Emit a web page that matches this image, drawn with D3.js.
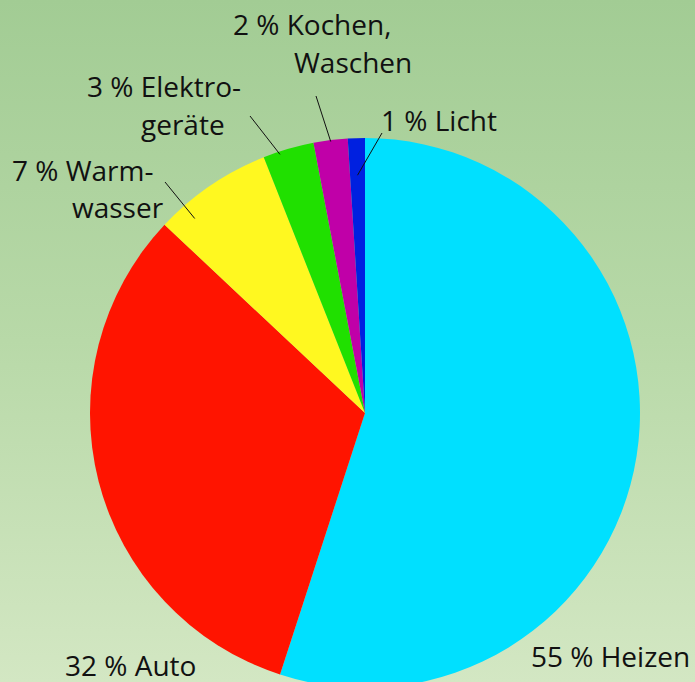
<!DOCTYPE html>
<html>
<head>
<meta charset="utf-8">
<script src="https://cdn.jsdelivr.net/npm/d3@7/dist/d3.min.js"></script>
<style>
  html, body { margin: 0; padding: 0; background: #bcdcaa; }
  svg { display: block; }
  text { font-family: "Open Sans", "Noto Sans", sans-serif; font-size: 28px; fill: #111; }
</style>
</head>
<body>
<script>
// ---- data ----
const categories = ["Heizen", "Auto", "Warmwasser", "Elektrogeräte", "Kochen, Waschen", "Licht"];
const values = [55, 32, 7, 3, 2, 1];
const colors = ["#00e0ff", "#ff1400", "#fff820", "#20e000", "#c000a8", "#0020e0"];
const labelLines = [
  ["55 % Heizen"],
  ["32 % Auto"],
  ["7 % Warm-", "wasser"],
  ["3 % Elektro-", "geräte"],
  ["2 % Kochen,", "Waschen"],
  ["1 % Licht"]
];

// ---- layout (annotation placement, not data) ----
const W = 695, H = 682;
const cx = 365, cy = 413, R = 275;
const labelLayout = [
  { lines: [[531, 667]], leader: null },
  { lines: [[65, 676]], leader: null },
  { lines: [[12, 181], [72, 218]], leader: { from: [165, 182], r: 0.94, da: -7 } },
  { lines: [[87, 97], [141, 135]], leader: { from: [250, 116], r: 0.99, da: -2 } },
  { lines: [[233, 35], [294, 73]], leader: { from: [316, 96], r: 0.995, da: 0 } },
  { lines: [[381, 131]], leader: { from: [382, 133], r: 0.865, da: 0 } }
];

const svg = d3.select("body").append("svg").attr("width", W).attr("height", H);

const defs = svg.append("defs");
const grad = defs.append("linearGradient").attr("id", "bg")
  .attr("x1", 0).attr("y1", 0).attr("x2", 0).attr("y2", 1);
grad.append("stop").attr("offset", "0%").attr("stop-color", "#a2cc94");
grad.append("stop").attr("offset", "50%").attr("stop-color", "#b8d9a8");
grad.append("stop").attr("offset", "100%").attr("stop-color", "#d3e7c3");
svg.append("rect").attr("width", W).attr("height", H).attr("fill", "url(#bg)");

const pie = d3.pie().sort(null).value(d => d);
const arcs = pie(values);
const arc = d3.arc().innerRadius(0).outerRadius(R);

const g = svg.append("g").attr("transform", `translate(${cx},${cy})`);
g.selectAll("path").data(arcs).join("path")
  .attr("d", arc)
  .attr("fill", (d, i) => colors[i]);

arcs.forEach((a, i) => {
  const lay = labelLayout[i];
  if (!lay.leader) return;
  const mid = (a.startAngle + a.endAngle) / 2 + lay.leader.da * Math.PI / 180;
  const rr = R * lay.leader.r;
  const x2 = cx + rr * Math.sin(mid), y2 = cy - rr * Math.cos(mid);
  svg.append("line")
    .attr("x1", lay.leader.from[0]).attr("y1", lay.leader.from[1])
    .attr("x2", x2).attr("y2", y2)
    .attr("stroke", "#111").attr("stroke-width", 1);
});

labelLines.forEach((lines, i) => {
  lines.forEach((t, j) => {
    const p = labelLayout[i].lines[j];
    svg.append("text").attr("x", p[0]).attr("y", p[1]).text(t);
  });
});
</script>
</body>
</html>
